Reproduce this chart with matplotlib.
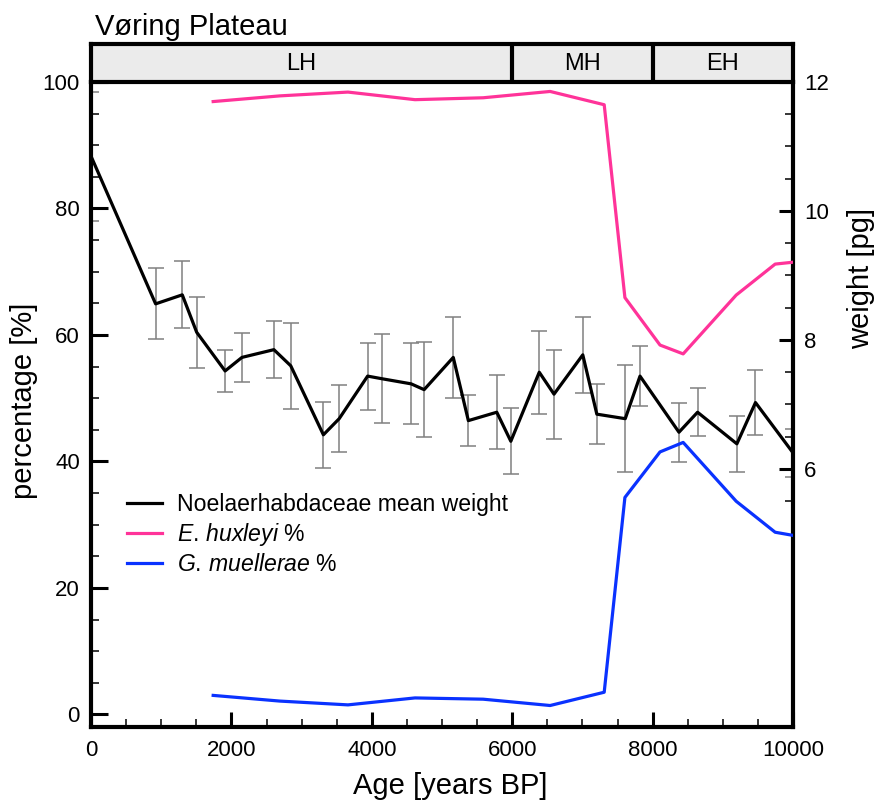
import matplotlib
matplotlib.use("Agg")
import matplotlib.pyplot as plt
from matplotlib.lines import Line2D
from matplotlib.ticker import MultipleLocator, FixedLocator

plt.rcParams['font.family'] = ['Liberation Sans', 'DejaVu Sans']
plt.rcParams['mathtext.fontset'] = 'custom'
plt.rcParams['mathtext.rm'] = 'Liberation Sans'
plt.rcParams['mathtext.it'] = 'Liberation Sans:italic'

# Assemblage composition (% of Noelaerhabdaceae)
pct_age = [1740, 2690, 3660, 4615, 5585, 6540, 7310, 7605, 8105, 8435, 9190, 9745, 10000]
ehux_pct = [96.9, 97.8, 98.4, 97.2, 97.5, 98.5, 96.4, 65.9, 58.4, 57.0, 66.3, 71.2, 71.5]
gmuel_pct = [3.0, 2.1, 1.5, 2.6, 2.4, 1.4, 3.5, 34.3, 41.5, 43.0, 33.7, 28.8, 28.3]

# Noelaerhabdaceae mean coccolith weight with uncertainty
weight_age = [0, 920, 1300, 1505, 1910, 2150, 2605, 2845, 3310, 3535, 3940, 4140,
              4560, 4745, 5160, 5375, 5780, 5980, 6385, 6595, 7005, 7205, 7610,
              7820, 8375, 8640, 9200, 9465, 10000]
weight = [10.85, 8.56, 8.70, 8.12, 7.52, 7.73, 7.85, 7.60, 6.53, 6.78, 7.44, 7.40,
          7.32, 7.23, 7.73, 6.75, 6.88, 6.43, 7.50, 7.16, 7.77, 6.85, 6.78,
          7.44, 6.57, 6.88, 6.39, 7.03, 6.25]
weight_err = [1.00, 0.55, 0.52, 0.55, 0.33, 0.38, 0.44, 0.67, 0.51, 0.52, 0.52, 0.69,
              0.63, 0.74, 0.63, 0.39, 0.57, 0.51, 0.64, 0.69, 0.59, 0.47, 0.83,
              0.47, 0.46, 0.37, 0.43, 0.50, 0.37]

# Holocene sub-divisions
periods = ['LH', 'MH', 'EH']
period_bounds = [0, 6000, 8000, 10000]

PINK = '#ff3399'
BLUE = '#0a32ff'
GREY = '#808080'
SPINE_W = 3.0

fig = plt.figure(figsize=(8.76, 8.02), dpi=100)
ax = fig.add_axes([0.1039, 0.0935, 0.8014, 0.8043])
ax2 = ax.twinx()

# weight on the right axis, drawn underneath the percentage curves
ax2.errorbar(weight_age, weight, yerr=weight_err, fmt='none', ecolor=GREY,
             elinewidth=1.1, capsize=6.1, capthick=1.1, zorder=1)
ax2.plot(weight_age, weight, color='black', lw=2.3, zorder=2)

ax.plot(pct_age, ehux_pct, color=PINK, lw=2.3)
ax.plot(pct_age, gmuel_pct, color=BLUE, lw=2.3)

ax.set_zorder(ax2.get_zorder() + 1)
ax.patch.set_visible(False)

ax.set_xlim(0, 10000)
ax.set_ylim(-2, 100)
ax2.set_ylim(2, 12)

ax.xaxis.set_major_locator(MultipleLocator(2000))
ax.xaxis.set_minor_locator(MultipleLocator(500))
ax.yaxis.set_major_locator(MultipleLocator(20))
ax.yaxis.set_minor_locator(FixedLocator([v for v in range(0, 101, 5)]))
ax2.yaxis.set_major_locator(FixedLocator([6, 8, 10, 12]))
ax2.yaxis.set_minor_locator(FixedLocator([5.5 + 0.5 * i for i in range(14)]))

for a in (ax, ax2):
    for s in a.spines.values():
        s.set_visible(False)
ax.spines['left'].set_visible(True)
ax.spines['bottom'].set_visible(True)
ax2.spines['right'].set_visible(True)
for s in (ax.spines['left'], ax.spines['bottom'], ax2.spines['right']):
    s.set_linewidth(SPINE_W)

ax.tick_params(axis='x', which='major', direction='in', length=11, width=2.2,
               labelsize=16, pad=9, top=False)
ax.tick_params(axis='x', which='minor', direction='in', length=6, width=1.1, top=False)
ax.tick_params(axis='y', which='major', direction='in', length=12, width=2.2,
               labelsize=16, pad=8, right=False)
ax.tick_params(axis='y', which='minor', direction='in', length=6, width=1.1, right=False)
ax2.tick_params(axis='y', which='major', direction='in', length=10, width=2.2,
                labelsize=16, pad=8)
ax2.tick_params(axis='y', which='minor', direction='in', length=6, width=1.1)

ax.set_xlabel('Age [years BP]', fontsize=21)
ax.xaxis.set_label_coords(0.511, -0.069)
ax.set_ylabel('percentage [%]', fontsize=21)
ax.yaxis.set_label_coords(-0.075, 0.505)
ax2.set_ylabel('weight [pg]', fontsize=21)
ax2.yaxis.set_label_coords(1.077, 0.696)

handles = [Line2D([], [], color='black', lw=2.3),
           Line2D([], [], color=PINK, lw=2.3),
           Line2D([], [], color=BLUE, lw=2.3)]
labels = ['Noelaerhabdaceae mean weight',
          r'$\mathit{E.\,huxleyi}$ %',
          r'$\mathit{G.\,muellerae}$ %']
ax.legend(handles, labels, loc='upper left', bbox_to_anchor=(127 / 876, 1 - 493 / 802),
          bbox_transform=fig.transFigure, frameon=False, fontsize=16.6,
          borderpad=0, borderaxespad=0, handlelength=1.52, handletextpad=0.66,
          labelspacing=0.22)

# period header strip
hdr = fig.add_axes([0.1039, 0.8978, 0.8014, 0.0474])
hdr.set_facecolor('#ebebeb')
hdr.set_xlim(period_bounds[0], period_bounds[-1])
hdr.set_ylim(0, 1)
hdr.set_xticks([])
hdr.set_yticks([])
for s in hdr.spines.values():
    s.set_linewidth(SPINE_W)
for b in period_bounds[1:-1]:
    hdr.axvline(b, color='black', lw=SPINE_W)
for name, lo, hi in zip(periods, period_bounds[:-1], period_bounds[1:]):
    hdr.text((lo + hi) / 2, 0.47, name, ha='center', va='center', fontsize=17)

fig.text(95 / 876, 1 - 35 / 802, 'Vøring Plateau', fontsize=21, ha='left', va='baseline')

fig.savefig('out.png', dpi=100)
